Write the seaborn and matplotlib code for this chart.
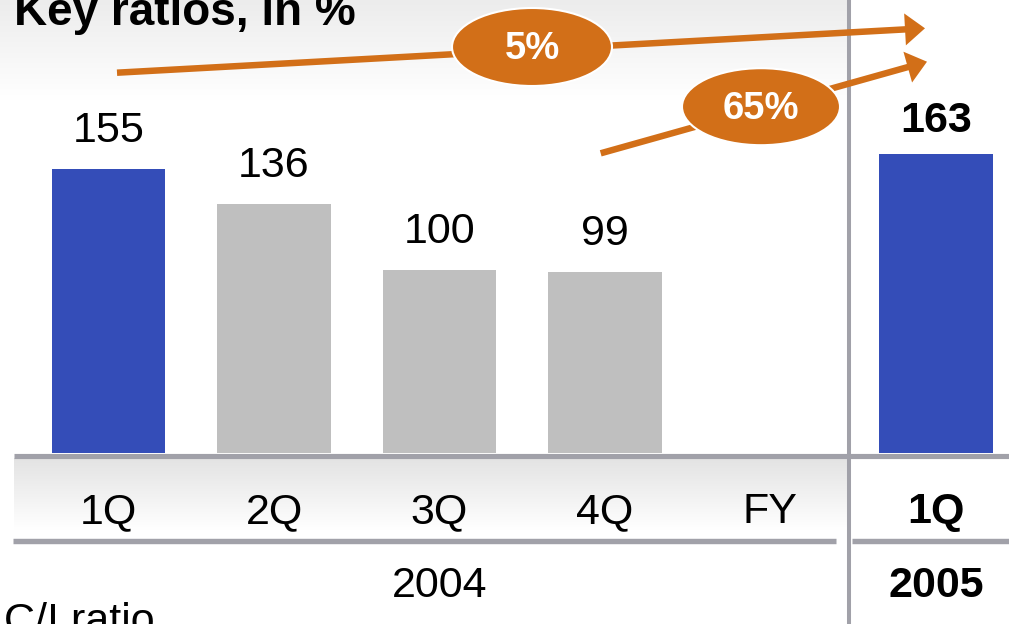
import numpy as np
import pandas as pd
import matplotlib
matplotlib.use("Agg")
import matplotlib.pyplot as plt
from matplotlib.colors import LinearSegmentedColormap
from matplotlib.patches import Ellipse
from matplotlib import transforms
import seaborn as sns

# ---- data ----
periods = ["1Q", "2Q", "3Q", "4Q", "FY", "1Q"]
years = ["2004", "2004", "2004", "2004", "2004", "2005"]
ci_ratio = [155, 136, 100, 99, None, 163]
highlight = [True, False, False, False, False, True]
growth_labels = ["5%", "65%"]
title = "Key ratios, in %"
row_label = "C/I ratio"

BLUE = "#344DB8"
GREY_BAR = "#BFBFBF"
ORANGE = "#D26F18"
RULE = "#A1A1A9"

sns.set_style("white")
plt.rcParams["font.family"] = ["Liberation Sans", "DejaVu Sans"]
plt.rcParams["text.color"] = "black"

W, H, DPI = 1009, 624, 100
fig = plt.figure(figsize=(W / DPI, H / DPI), dpi=DPI)
fig.patch.set_facecolor("white")

# pixel-space layers: background (gradients) and foreground (rules, arrows, text)
bg = fig.add_axes([0, 0, 1, 1], zorder=0)
ax = fig.add_axes([0, 0, 1, 1], zorder=1)
fg = fig.add_axes([0, 0, 1, 1], zorder=2)
for a in (bg, fg):
    a.set_xlim(0, W)
    a.set_ylim(H, 0)
    a.axis("off")
ax.patch.set_alpha(0)
fg.patch.set_alpha(0)

# ---- soft grey gradients ----
fade_top = LinearSegmentedColormap.from_list("fade_top", ["#ECECEC", "#FFFFFF"])
grad = np.linspace(0, 1, 256).reshape(-1, 1)
bg.imshow(grad, cmap=fade_top, extent=(0, 848, 100, 0), aspect="auto", zorder=0)
fade_band = LinearSegmentedColormap.from_list("fade_band", ["#E3E3E3", "#FFFFFF"])
bg.imshow(grad, cmap=fade_band, extent=(14, 847, 530, 458), aspect="auto", zorder=0)

# ---- bars ----
keys = [f"{p} {y}" for p, y in zip(periods, years)]
df = pd.DataFrame({"period": keys, "value": ci_ratio, "hl": highlight})
df_bars = df.dropna(subset=["value"])
palette = {k: (BLUE if h else GREY_BAR) for k, h in zip(keys, highlight)}
sns.barplot(data=df_bars, x="period", y="value", order=keys, hue="period",
            palette=palette, legend=False, width=0.683, saturation=1,
            ax=ax, edgecolor="none")
px_per_unit = 1.832
base_px = 453.0
x0_px, step_px = 108.5, 165.5
ax.set_xlim(-x0_px / step_px, (W - x0_px) / step_px)
ax.set_ylim((base_px - H) / px_per_unit, base_px / px_per_unit)
ax.axis("off")

# value labels above bars
for i, (v, h) in enumerate(zip(ci_ratio, highlight)):
    if v is None:
        continue
    bold = years[i] == "2005"
    ax.annotate(f"{v:g}", xy=(i, v), xytext=(0, 22 if bold else 27),
                textcoords="offset pixels", ha="center", va="baseline",
                fontsize=31, fontweight="bold" if bold else "normal",
                color="black")

# category and year labels (x from category axis, y in pixels)
mix = transforms.blended_transform_factory(ax.transData, fg.transData)
for i, (p, y) in enumerate(zip(periods, years)):
    fg.text(i, 523, p, transform=mix, ha="center", va="baseline",
            fontsize=31, color="black",
            fontweight="bold" if y == "2005" else "normal")
for y in dict.fromkeys(years):
    idx = [i for i, yy in enumerate(years) if yy == y]
    fg.text(np.mean(idx), 597, y, transform=mix, ha="center", va="baseline",
            fontsize=31, color="black",
            fontweight="bold" if y == "2005" else "normal")

# ---- rules ----
fg.plot([14, W], [455.5, 455.5], color=RULE, lw=3.7, solid_capstyle="butt")
fg.plot([13, 836], [541, 541], color=RULE, lw=3.9, solid_capstyle="butt")
fg.plot([852, W], [541, 541], color=RULE, lw=3.9, solid_capstyle="butt")
fg.plot([848.7, 848.7], [0, H], color=RULE, lw=2.9, solid_capstyle="butt")

# ---- growth arrows with badges ----
arrows = [((117, 72.7), (925, 28.3)), ((600.7, 153.3), (927, 61.7))]
badges = [((532, 47), 160, 78), ((761, 106.7), 158, 77)]
for (s, e), (c, bw, bh), lab in zip(arrows, badges, growth_labels):
    fg.arrow(s[0], s[1], e[0] - s[0], e[1] - s[1], width=6.5,
             head_width=32, head_length=20, length_includes_head=True,
             color=ORANGE, lw=0, zorder=3)
    fg.add_patch(Ellipse(c, bw, bh, facecolor=ORANGE, edgecolor="white",
                         lw=1.5, zorder=4))
    fg.text(c[0], c[1] + 2, lab, ha="center", va="center", color="white",
            fontsize=27.5, fontweight="bold", zorder=5)

# ---- title and row label ----
fg.text(14, 25, title, ha="left", va="baseline", fontsize=33,
        fontweight="bold", color="black")
fg.text(4, 602, row_label, ha="left", va="top", fontsize=31, color="black")

fig.savefig("out.png", dpi=DPI)
